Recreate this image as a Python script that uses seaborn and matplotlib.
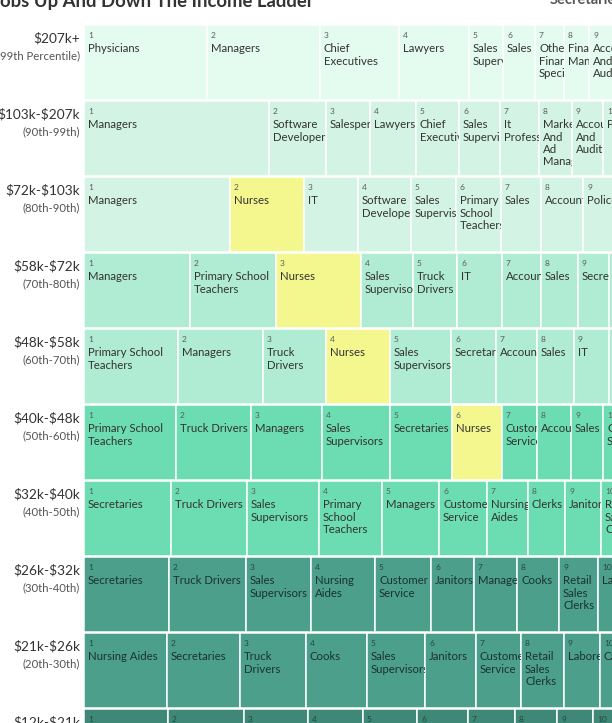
import matplotlib
matplotlib.use('Agg')
import matplotlib.pyplot as plt
import matplotlib.transforms as mtransforms
from matplotlib.font_manager import FontProperties
import seaborn as sns

# income brackets (top to bottom)
brackets = ['$207k+', '$103k-$207k', '$72k-$103k', '$58k-$72k', '$48k-$58k',
            '$40k-$48k', '$32k-$40k', '$26k-$32k', '$21k-$26k', '$12k-$21k']
percentiles = ['(99th Percentile)', '(90th-99th)', '(80th-90th)', '(70th-80th)',
               '(60th-70th)', '(50th-60th)', '(40th-50th)', '(30th-40th)',
               '(20th-30th)', '(10th-20th)']

# jobs in each bracket, ranked, with relative size
jobs_99 = ['Physicians', 'Managers', 'Chief Executives', 'Lawyers', 'Sales Supervisors',
           'Sales', 'Other Financial Specialists', 'Financial Managers',
           'Accountants And Auditors']
size_99 = [123, 113, 79, 70, 34, 32, 29, 25, 26]

jobs_90 = ['Managers', 'Software Developers', 'Salespersons', 'Lawyers', 'Chief Executives',
           'Sales Supervisors', 'It Professionals', 'Marketing And Ad Managers',
           'Accountants And Auditors', 'Physicians']
size_90 = [185, 57, 44, 46, 43, 41, 39, 33, 31, 28]

jobs_80 = ['Managers', 'Nurses', 'IT', 'Software Developers', 'Sales Supervisors',
           'Primary School Teachers', 'Sales', 'Accountants', 'Police']
size_80 = [146, 74, 54, 53, 45, 45, 40, 42, 30]

jobs_70 = ['Managers', 'Primary School Teachers', 'Nurses', 'Sales Supervisors',
           'Truck Drivers', 'IT', 'Accountants', 'Sales', 'Secretaries', 'Engineers']
size_70 = [106, 86, 85, 52, 44, 45, 39, 37, 31, 25]

jobs_60 = ['Primary School Teachers', 'Managers', 'Truck Drivers', 'Nurses',
           'Sales Supervisors', 'Secretaries', 'Accountants', 'Sales', 'IT',
           'Customer Service']
size_60 = [94, 85, 63, 64, 61, 45, 41, 37, 35, 25]

jobs_50 = ['Primary School Teachers', 'Truck Drivers', 'Managers', 'Sales Supervisors',
           'Secretaries', 'Nurses', 'Customer Service', 'Accountants', 'Sales',
           'Computer Support']
size_50 = [92, 75, 71, 68, 62, 50, 35, 34, 32, 30]

jobs_40 = ['Secretaries', 'Truck Drivers', 'Sales Supervisors', 'Primary School Teachers',
           'Managers', 'Customer Service', 'Nursing Aides', 'Clerks', 'Janitors',
           'Retail Sales Clerks']
size_40 = [87, 76, 72, 63, 57, 48, 41, 37, 36, 30]

jobs_30 = ['Secretaries', 'Truck Drivers', 'Sales Supervisors', 'Nursing Aides',
           'Customer Service', 'Janitors', 'Managers', 'Cooks', 'Retail Sales Clerks',
           'Laborers']
size_30 = [85, 77, 65, 64, 56, 43, 43, 42, 39, 30]

jobs_20 = ['Nursing Aides', 'Secretaries', 'Truck Drivers', 'Cooks', 'Sales Supervisors',
           'Janitors', 'Customer Service', 'Retail Sales Clerks', 'Laborers', 'Cashiers']
size_20 = [83, 73, 66, 61, 58, 51, 45, 43, 36, 30]

jobs_10 = ['Cashiers', 'Nursing Aides', 'Cooks', 'Retail Sales Clerks', 'Janitors',
           'Waiters', 'Maids', 'Laborers', 'Secretaries', 'Customer Service']
size_10 = [84, 76, 64, 55, 54, 51, 47, 42, 36, 30]

row_jobs = [jobs_99, jobs_90, jobs_80, jobs_70, jobs_60, jobs_50, jobs_40, jobs_30, jobs_20, jobs_10]
row_sizes = [size_99, size_90, size_80, size_70, size_60, size_50, size_40, size_30, size_20, size_10]

row_colors = ['#e4fbef', '#d3f4e5', '#d3f4e5', '#b0ebd3', '#b0ebd3',
              '#6cdcb2', '#6cdcb2', '#4b9f8b', '#4b9f8b', '#3f8777']
highlight = 'Nurses'
highlight_color = '#f4f78e'

sns.set_theme(style='white')
plt.rcParams['font.family'] = ['Lato', 'DejaVu Sans']
plt.rcParams['text.parse_math'] = False

W, H, DPI = 612, 723, 100
fig = plt.figure(figsize=(W / DPI, H / DPI), dpi=DPI)
fig.patch.set_facecolor('white')

pitch = 76.0
ax_top = 24.5
left_px = 84
ax = fig.add_axes([left_px / W, 1 - (ax_top + pitch * 10) / H,
                   (W - left_px) / W, pitch * 10 / H])
ax.set_xlim(0, W - left_px)
ax.set_ylim(9.5, -0.5)
ax.axis('off')

lw_px = 1.5
bar_h = 1 - lw_px / pitch
top_off = -(pitch * bar_h - lw_px) / 2 / pitch  # visible top of a cell, in row units

name_fp = FontProperties(family='Lato', size=8.2)
renderer = fig.canvas.get_renderer()


def text_w(s):
    w, h, d = renderer.get_text_width_height_descent(s, name_fp, ismath=False)
    return w


def wrap(name, avail):
    lines = []
    cur = ''
    for word in name.split():
        cand = word if not cur else cur + ' ' + word
        if cur and text_w(cand) > avail:
            lines.append(cur)
            cur = word
        else:
            cur = cand
    lines.append(cur)
    return lines


def shifted(dx, dy):
    return mtransforms.offset_copy(ax.transData, fig=fig, x=dx, y=dy, units='dots')


px_per_unit = ax.transData.transform((1, 0))[0] - ax.transData.transform((0, 0))[0]

for i, (jobs, sizes) in enumerate(zip(row_jobs, row_sizes)):
    lefts = [sum(sizes[:k]) for k in range(len(sizes))]
    colors = [highlight_color if j == highlight else row_colors[i] for j in jobs]
    bars = ax.barh([i] * len(sizes), sizes, left=lefts, height=bar_h,
                   color=colors, edgecolor='white', linewidth=lw_px * 72 / DPI)
    dark = i >= 7
    rank_col = '#24483f' if dark else '#5a5a5a'
    name_col = '#1c332d' if dark else '#333333'
    top = i + top_off
    for k, (job, size, lf, rect) in enumerate(zip(jobs, sizes, lefts, bars.patches)):
        t = ax.text(lf, top, str(k + 1), transform=shifted(4, -9), fontsize=6,
                    color=rank_col, va='center', ha='left', clip_on=True)
        t.set_clip_path(rect)
        for n, line in enumerate(wrap(job, size * px_per_unit - 5)):
            t = ax.text(lf, top, line, transform=shifted(4, -(23 + 12.3 * n)),
                        fontproperties=name_fp, color=name_col, va='center',
                        ha='left', clip_on=True)
            t.set_clip_path(rect)

    ax.text(0, top, brackets[i], transform=shifted(-4, -12), fontsize=9.8,
            color='#333333', ha='right', va='center')
    ax.text(0, top, percentiles[i], transform=shifted(-4, -30), fontsize=8.2,
            color='#555555', ha='right', va='center')

fig.text(-8 / W, 1 - 7 / H, 'Jobs Up And Down The Income Ladder', fontsize=13.3,
         fontweight='bold', color='#333333', ha='left', va='baseline')
fig.text(550 / W, 1 - 4 / H, 'Secretaries', fontsize=10.5, fontweight='bold',
         color='#555555', ha='left', va='baseline')

fig.savefig('out.png', dpi=DPI)
